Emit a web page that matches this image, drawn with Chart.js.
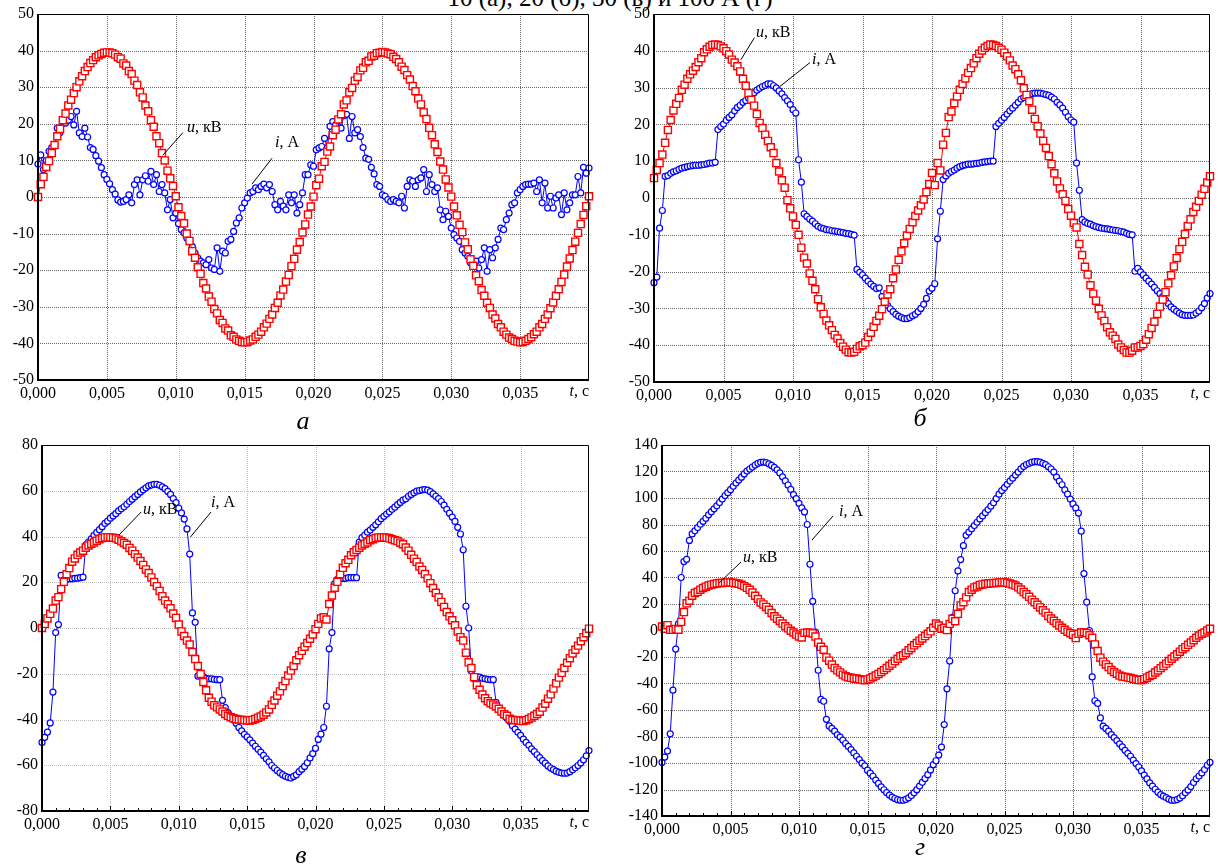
<!DOCTYPE html>
<html>
<head>
<meta charset="utf-8">
<script src="https://cdn.jsdelivr.net/npm/chart.js@4.4.1/dist/chart.umd.min.js"></script>
<style>
  html, body { margin: 0; padding: 0; background: #fff; }
  body { width: 1219px; height: 866px; position: relative; overflow: hidden; font-family: "Liberation Serif", "Times New Roman", serif; color: #000; }
  canvas { position: absolute; }
  .cap { position: absolute; font-style: italic; font-size: 26px; line-height: 1; transform: translate(-50%, -50%); }
  #title { position: absolute; left: 610px; top: -15px; transform: translateX(-50%); font-size: 25px; line-height: 25px; white-space: nowrap; }
</style>
</head>
<body>
<div id="title">10 (а), 20 (б), 30 (в) и 100 А (г)</div>

<canvas id="chartA" width="600" height="412" style="left:0;top:0"></canvas>
<canvas id="chartB" width="614" height="412" style="left:605px;top:0"></canvas>
<canvas id="chartC" width="600" height="412" style="left:0;top:430px"></canvas>
<canvas id="chartD" width="614" height="420" style="left:605px;top:430px"></canvas>

<div class="cap" style="left:303px;top:421px">а</div>
<div class="cap" style="left:920px;top:418px">б</div>
<div class="cap" style="left:301px;top:855px">в</div>
<div class="cap" style="left:920px;top:847px">г</div>

<script>
// осциллограммы: шаг дискретизации 0,2 мс, 0...0,04 с
const STEP = 0.0002;
const time = Array.from({ length: 201 }, (_, k) => +(k * STEP).toFixed(4));

// (а) ток 10 А
const uA = [
  0, 3.5, 5.5, 8.2, 9.8, 12.0, 14.2, 16.6, 18.6, 21.0, 22.8, 25.0, 26.6, 28.4, 30.0, 31.6, 33.0, 34.4, 35.5, 36.6, 37.4, 38.2, 38.7, 39.1, 39.4, 39.5,
  39.5, 39.3, 38.9, 38.2, 37.8, 36.5, 35.9, 34.4, 33.6, 31.8, 30.6, 28.6, 27.2, 25.0, 23.4, 21.0, 19.2, 16.6, 14.7, 12.0, 10.0, 7.2, 5.1, 3.0, 0.2,
  -2.8, -5.2, -7.2, -10.0, -12.0, -14.8, -16.6, -19.2, -21.0, -23.5, -25.0, -27.2, -28.6, -30.6, -31.8, -33.6, -34.4, -35.9, -36.5, -37.8, -38.2, -38.9, -39.3, -39.6, -39.7,
  -39.6, -39.2, -38.9, -38.2, -37.6, -36.8, -35.6, -34.6, -33.3, -32.1, -30.3, -28.9, -26.9, -25.3, -23.1, -21.3, -18.9, -16.9, -14.4, -12.3, -9.7, -7.5, -4.8, -2.6, 0.1,
  3.2, 5.0, 8.4, 9.6, 12.4, 13.8, 16.9, 18.4, 21.2, 22.6, 25.3, 26.4, 28.6, 29.8, 31.8, 32.8, 34.6, 35.3, 36.8, 37.2, 38.4, 38.6, 39.3, 39.4, 39.6,
  39.5, 39.2, 39.0, 38.3, 37.7, 36.8, 35.6, 34.7, 33.3, 32.1, 30.3, 28.9, 26.9, 25.3, 23.1, 21.3, 18.9, 16.9, 14.4, 12.3, 9.7, 7.5, 4.8, 2.6, 0.1,
  -2.6, -5.0, -7.6, -9.6, -12.4, -14.3, -17.0, -18.8, -21.4, -23.0, -25.4, -27.0, -28.9, -30.3, -32.1, -33.2, -34.7, -35.6, -36.8, -37.6, -38.4, -38.8, -39.3, -39.5, -39.7,
  -39.6, -39.3, -38.8, -38.3, -37.5, -36.8, -35.6, -34.7, -33.3, -32.1, -30.4, -28.8, -27.0, -25.2, -23.2, -21.2, -19.0, -16.8, -14.5, -12.2, -9.8, -7.4, -4.9, -2.5, 0.2
];
const iA = [
  9, 11.5, 7.5, 10, 12.5, 13.5, 14, 18.8, 17.6, 20.2, 20.2, 21, 22, 19.7, 23.4, 17.5, 16.5, 18.8, 16.4, 13.5, 13, 11.3, 9.8, 8, 6.1, 4.8,
  3.6, 2, 0.8, -0.8, -1.4, -1.2, -0.7, 0.6, -1.6, 3.4, 4.7, 0.6, 4.7, 5.8, 4.3, 7, 3.4, 6.1, 1.5, 3.4, 1.1, -3.5, -0.7, -5.7, -4.4,
  -7.3, -8.9, -9.8, -11.2, -12.1, -13.5, -15.3, -16.6, -17.5, -18, -18.5, -17.1, -19.4, -19.8, -13.9, -20.3, -14.8, -15.3, -12.1, -11.6, -9.4, -7.1, -5.7, -3, -1.6,
  -0.3, 1.1, 1.5, 2.5, 2, 2.9, 3.5, 2.5, 3.4, 1.5, -2.1, -3.5, -1.2, -2.5, -3.5, 0.6, -1.6, 0.6, -4.4, -2.1, 1.1, 6.1, 6.1, 8.8, 8.4,
  12.9, 13.4, 13.8, 16, 13.5, 19.3, 20.6, 19.7, 21, 18.8, 22.2, 22.6, 16, 22, 17.5, 18.4, 16.5, 13.5, 10.6, 10.3, 8.1, 6.3, 3.4, 2.9, 0.6,
  0.2, -0.7, -1.2, -0.7, -1.2, -1.6, 0.2, -3, 2.9, 4.7, 4.3, 2.9, 4.7, 5.2, 7.5, 1.5, 6.1, 3.4, 1.5, 2.5, -3.5, -6.2, -3.9, -5.3, -8.5,
  -10.3, -11.2, -12.1, -14.4, -15.3, -16.2, -18, -18.5, -17.5, -19.4, -17.1, -13.9, -20.3, -14.4, -16.6, -13.9, -11.6, -8.5, -8.9, -6.2, -4.4, -2.1, -1.6, 1.1, 2,
  2.9, 3.4, 3.5, 3.5, 3.8, 1.5, 4.7, -1.6, 3.8, -3, 0.2, -3, -0.3, 0.6, -4.8, 1.1, -3.5, -1.6, 0.6, 0.6, 5.6, 1.1, 8.1, 6.5, 7.9
];

// (б) ток 20 А
const uB = [
  5.4, 7.6, 9.5, 11.8, 15, 18.5, 21.2, 23.8, 25.6, 27.2, 29.4, 30.8, 32.4, 33.6, 34.6, 35.6, 36.9, 38, 39.6, 40.4, 41.1, 41.6, 41.7, 41.6, 41.2, 40.7,
  39.9, 39, 37.6, 36.8, 35.8, 34.4, 32.4, 30.5, 28.5, 26.7, 25.1, 22.8, 20.4, 19, 17.2, 15.5, 13.8, 12.2, 9.5, 7.2, 4.8, 2.8, -0.6, -2.8, -5,
  -7.3, -10, -13.5, -16.2, -17.8, -20.5, -22.5, -24.8, -27.5, -29.7, -31.5, -33.3, -34.6, -35.9, -37.2, -38.2, -39.4, -40.4, -41.2, -41.9, -42, -41.8, -41, -40.3, -40,
  -39.3, -37.8, -36.6, -35, -33.4, -32, -30.2, -28.2, -26.2, -24.8, -21.8, -19.4, -16.8, -14.5, -12.3, -10.2, -8.4, -6.6, -4.9, -3.4, -2.0, -0.4, 1.6, 3.8, 6.8,
  3.5, 9.5, 7.5, 14.5, 17.7, 22, 23.5, 25.8, 27.6, 29.4, 31, 32.5, 34, 35.3, 36.6, 38, 39.2, 40.1, 40.8, 41.3, 41.7, 41.6, 41.3, 40.8, 40.3,
  39.5, 38.5, 37.4, 36, 35, 33.6, 32, 29.8, 28, 26.3, 24, 21.5, 19.5, 17.5, 15.5, 13.6, 11.4, 9.2, 6.7, 4.5, 2.6, 1, -0.8, -3, -4.8,
  -6.8, -8, -12.5, -15.5, -18.7, -20.8, -23.7, -26, -27.9, -30.1, -31.9, -33.4, -35.1, -36.5, -37.4, -38.3, -39.8, -40.6, -41.3, -42, -42, -41.5, -40.6, -40.6, -40.2,
  -39.7, -38.5, -37, -35.3, -33.6, -31.5, -29.5, -27.6, -25.6, -23.2, -21, -18.6, -16.3, -13.9, -11.9, -9.8, -7.6, -5.8, -3.8, -2.4, -0.8, 0.9, 2.5, 4.2, 5.9
];
const iB = [
  -23, -21.5, -8.2, -3.4, 5.9, 6.1, 6.7, 7.1, 7.4, 7.8, 8.1, 8.3, 8.5, 8.7, 8.8, 8.9, 8.9, 9.0, 9.1, 9.3, 9.5, 9.5, 9.7, 18.6, 19.4, 20.1,
  21.1, 21.9, 22.6, 23.7, 24.6, 25.2, 26.0, 26.5, 27.2, 28.1, 28.6, 29.3, 29.8, 30.3, 30.6, 31.0, 31.0, 30.5, 29.9, 29.1, 28.3, 27.3, 26.4, 25.4, 24.0,
  23.1, 10.4, 4.3, -4.3, -5.0, -5.7, -6.3, -7.0, -7.7, -8.1, -8.3, -8.6, -8.7, -8.9, -9.0, -9.1, -9.3, -9.4, -9.6, -9.7, -9.9, -10.1, -19.4, -20.2, -20.9,
  -21.8, -22.6, -23.4, -24.0, -24.6, -24.4, -26.8, -28.3, -29.2, -30.1, -30.9, -31.6, -32.1, -32.5, -32.8, -32.8, -32.5, -32.0, -31.6, -30.9, -30.0, -28.9, -27.3, -25.3, -24.5,
  -23.3, -11.1, -3.6, 5.0, 6.0, 6.7, 7.2, 7.6, 8.1, 8.5, 8.8, 9.0, 9.2, 9.2, 9.3, 9.4, 9.5, 9.7, 9.8, 9.9, 10.0, 10.0, 19.4, 20.3, 21.1,
  21.9, 22.8, 23.7, 24.4, 25.2, 26.0, 26.9, 27.3, 27.7, 28.1, 28.4, 28.5, 28.5, 28.5, 28.3, 28.1, 27.9, 27.4, 26.9, 26.0, 25.3, 24.4, 23.3, 22.1, 21.2,
  20.6, 9.5, 2.1, -5.9, -6.5, -6.9, -7.1, -7.5, -7.8, -8.0, -8.2, -8.3, -8.4, -8.5, -8.7, -8.8, -8.9, -9.1, -9.3, -9.6, -9.9, -10.0, -19.9, -19.1, -20.1,
  -20.9, -21.8, -22.6, -23.4, -24.3, -25.2, -26.0, -26.8, -27.8, -28.7, -29.6, -30.2, -30.8, -31.3, -31.7, -31.9, -31.9, -31.9, -31.8, -31.3, -30.7, -29.8, -28.7, -27.2, -26.0
];

// (в) ток 30 А
const uC = [
  0, 1.8, 4.2, 6.2, 8.5, 12, 13.5, 17, 20.2, 23.5, 26.2, 29, 30.4, 32, 33, 33.8, 35.1, 36.1, 36.8, 37.4, 38.1, 38.8, 39.3, 39.6, 39.6, 39.6,
  39.5, 39.2, 38.6, 37.9, 37.2, 36.4, 35.0, 33.8, 32.3, 30.8, 29.3, 27.6, 25.6, 24, 22.1, 20.1, 18.3, 16.2, 13.9, 12, 10.4, 8.6, 6.3, 4.4, 1.5,
  -1.5, -3.5, -5.5, -7.2, -10.5, -13.6, -16.6, -20.1, -23.6, -27.2, -30.5, -32.2, -33.8, -34.7, -35.6, -36.5, -37.6, -38.4, -39.0, -39.5, -39.8, -40.1, -40.1, -40.3, -40.4,
  -40.4, -40.2, -39.8, -39.2, -38.7, -37.9, -36.9, -35.6, -33.6, -31.7, -29.6, -27.7, -25.4, -23.2, -20.8, -18.6, -16.6, -14.1, -11.9, -10, -8.2, -6.6, -4.7, -2.8, -0.5,
  1.8, 4.2, 4.7, 3.7, 10.5, 14.2, 17.6, 20.2, 23.5, 26.3, 28.3, 29.8, 31.8, 33.1, 34.1, 35.1, 36.1, 36.8, 37.4, 38.4, 38.8, 39.3, 39.6, 39.6, 39.6,
  39.5, 39.2, 38.8, 38.4, 38.0, 37.3, 36.6, 35.2, 33.8, 32.0, 30.3, 28.9, 26.9, 25.4, 23.6, 21.7, 19.6, 17.5, 15.4, 13.4, 11.4, 9.2, 7.0, 5.1, 3.4,
  1.2, -1.5, -4, -5.5, -10.8, -15, -17.5, -21.5, -25, -27, -29.1, -30.7, -32.0, -32.9, -33.5, -34.3, -35.3, -36.5, -37.7, -38.4, -39.7, -40.1, -40.3, -40.4, -40.5,
  -40.7, -40.3, -39.8, -39.1, -38.4, -37.6, -36.6, -34.8, -33.1, -30.9, -29, -26.5, -24.2, -21.7, -19.6, -17.5, -15.2, -13.2, -11.1, -9.5, -7.7, -5.8, -4, -2.3, -0.3
];
const iC = [
  -50, -47.8, -45.5, -41.5, -28, -2, 1.5, 23, 21, 21.3, 21.5, 21.5, 21.7, 21.8, 22, 22.2, 36.2, 37.6, 39, 40.5, 41.8, 43, 44.3, 45.7, 46.7, 48,
  49, 50, 51.2, 52.1, 53, 54.1, 55.3, 56.3, 57.4, 58.4, 59.5, 60.4, 61.3, 62.1, 62.5, 62.8, 62.8, 62.4, 61.7, 60.9, 59.7, 58.4, 56.6, 54.8, 52.4,
  50.3, 47.6, 43.3, 32.3, 6.6, 2.5, -21, -20.7, -21.2, -22, -22.2, -22.2, -22.5, -22.6, -22.6, -31.6, -34.8, -37, -38.8, -40.2, -41.6, -43.5, -45, -46.5, -47.6,
  -48.9, -50.3, -51.7, -53, -54.3, -55.7, -57.2, -58.5, -60.1, -61.2, -62.3, -63.3, -64.1, -64.8, -65.3, -65.6, -64.9, -64.2, -62.8, -61.7, -60.5, -58.9, -56.8, -54.9, -52.6,
  -48.7, -46.4, -43.5, -34.2, -9.1, -2, 19.4, 21.3, 21.7, 21.7, 21.7, 22, 22, 22, 22, 37.5, 39.5, 40.6, 41.9, 42.8, 44, 45.1, 46.4, 47.8, 48.8,
  49.8, 50.8, 51.9, 52.8, 53.9, 54.9, 55.9, 56.5, 57.6, 58.4, 59.1, 59.8, 60.1, 60.4, 60.5, 60.3, 59.6, 58.6, 57.6, 56.6, 55.3, 53.7, 51.9, 50.2, 48.5,
  46.6, 44, 41.1, 34.2, 9.5, 0, -18.8, -22.2, -21.4, -21.5, -22, -22.2, -22.5, -22.6, -22.6, -32.5, -35, -36.8, -38.1, -39.5, -40.8, -42.7, -44.2, -45.6, -46.9,
  -48.6, -50, -51.3, -52.8, -54, -55.4, -56.7, -58, -59.1, -60.3, -61.2, -61.9, -62.6, -63.1, -63.4, -63.5, -63.4, -62.8, -62, -61.1, -60.1, -59, -57.6, -55.9, -53.6
];

// (г) ток 100 А
const uD = [
  3, 1.3, 4, 0.5, 0.5, 1.2, 0.6, 6.5, 13.9, 20.5, 22.5, 26.3, 28.3, 29.2, 30.8, 32.1, 33.1, 33.9, 34.6, 35.1, 35.5, 35.8, 35.9, 36.1, 36.3, 36.3,
  36.0, 35.7, 35.3, 34.5, 33.5, 32.2, 30.7, 28.6, 26.2, 23.8, 21.2, 19.7, 17.8, 15.6, 13.2, 10.7, 8.9, 7.2, 5.2, 3.2, 1.6, -0.2, -1.5, -3.1, -4.5,
  -5.2, -1.8, -1.5, -1.6, -2.2, -4.6, -9, -12.3, -14.5, -20.3, -22.8, -25.7, -28.3, -30.1, -31.6, -33.3, -34.6, -35.2, -35.7, -36.2, -36.2, -36.8, -37.2, -37.5, -37.1,
  -36.3, -35.1, -34, -32.8, -31.4, -29.9, -28.3, -26.6, -25, -23.1, -21.3, -19.5, -18.7, -16.9, -14.9, -13.2, -11.2, -9.5, -7.7, -6.0, -4.2, -2.5, -0.6, 2.0, 5.3,
  3.8, 1.3, 2, 0.3, 5, 8.8, 7, 12.6, 18.9, 21.4, 25, 29, 30.8, 32.5, 33.2, 34.4, 34.8, 35.2, 35.4, 35.6, 35.8, 35.9, 36.2, 36.3, 36.3,
  36, 35.4, 34.7, 33.9, 32.6, 30.9, 29, 27.3, 25.4, 23.3, 21.3, 19.4, 17.4, 15.2, 13.5, 11, 9, 7.3, 5.5, 3.8, 2, 0.5, -0.9, -2, -3.2,
  -5.7, -2.5, -1.4, -1.3, -1.9, -3.6, -5.5, -10.5, -15.5, -20.5, -23.5, -25.6, -27.6, -29.8, -31.4, -32.6, -34, -34.7, -35, -35.4, -35.9, -36.4, -37, -37.4, -37.3,
  -36.7, -35.6, -34.4, -33.4, -31.7, -30.2, -28.4, -26.8, -25, -23.1, -21.3, -19.6, -17.9, -16, -14.1, -12.6, -10.8, -9.1, -7.3, -5.5, -3.8, -2.5, -1.5, 0, 1.3
];
const iD = [
  -99.5, -95.5, -91, -78, -45, -14, 5, 40, 52, 53.7, 68, 72.9, 75.2, 77.7, 80.2, 82.4, 84.7, 87.3, 89.6, 91.8, 94.1, 96.6, 99.2, 101.9, 104, 106.3,
  108.8, 111.3, 113.5, 115.7, 118.2, 120.3, 121.9, 123.4, 124.9, 126.2, 126.9, 127.1, 126.7, 125.8, 124.6, 123.1, 121.3, 118.9, 116, 112.9, 109.8, 106.5, 102.5, 99.5, 96,
  92.5, 89.5, 80, 50, 22, -1.3, -30, -52, -53.4, -67, -72, -73.9, -76, -78.7, -80.4, -82.7, -85.3, -87.5, -89.9, -92.4, -94.9, -97.4, -100.1, -102.1, -105.4,
  -107.7, -110, -112.9, -115.4, -118, -120.2, -122.4, -124.2, -125.7, -126.8, -127.7, -128.1, -128.1, -127.5, -126.3, -124.6, -122.5, -120.1, -117.4, -114.6, -111.7, -108.8, -105.2, -101.3, -98.3,
  -94, -88, -71, -44, -23, 10, 30, 45, 53.5, 64, 71.8, 74.3, 76.7, 79.2, 81.7, 84.2, 86.5, 88.9, 91.3, 93.8, 96.4, 99.6, 102.9, 105.6, 107.9,
  110.3, 112.8, 115, 117.3, 119.6, 122, 123.8, 125.3, 126.2, 127, 127.4, 127.4, 127, 126.2, 125.2, 123.6, 121.9, 119.6, 115.8, 112.8, 110, 106.2, 103, 99.2, 95.5,
  92.5, 88.6, 75, 43, 21.4, 0, -35, -53, -55, -66, -72.2, -73.9, -76, -78.6, -80.8, -83.1, -85.5, -87.9, -90.4, -92.7, -94.9, -97.8, -100.4, -103, -106,
  -109.1, -112, -115, -117.5, -119.8, -122, -123.8, -125, -126.1, -127.3, -128.1, -128.1, -127.6, -126.5, -124.7, -122.5, -120.3, -117.8, -114.7, -111.9, -109.8, -107.5, -104.9, -101.7, -99.5
];

const FONT = '"Liberation Serif", "Times New Roman", serif';
const RED = '#ff0000';
const BLUE = '#0000ff';
const DOTTED = { color: 'rgba(0,0,0,0.6)', dash: [1, 1] };
const LIGHT = { color: '#bdbdbd', dash: [1, 1] };

// описание панелей: оси, отступы, стиль сетки, подписи u и i
const panels = [
  {
    id: 'chartA', u: uA, i: iA, ymin: -50, ymax: 50, ystep: 10,
    pad: { top: 14, right: 11 }, yw: 38, xh: 32, grid: DOTTED, minor: false,
    notes: [
      { sym: 'u', unit: ', кВ', tx: 0.01081, ty: 18.8, l: [0.01052, 17.6, 0.00906, 11.4] },
      { sym: 'i', unit: ', А', tx: 0.01721, ty: 14.7, l: [0.01699, 10.6, 0.01553, 3.5] }
    ]
  },
  {
    id: 'chartB', u: uB, i: iB, ymin: -50, ymax: 50, ystep: 10,
    pad: { top: 14, right: 9 }, yw: 49, xh: 30, grid: DOTTED, minor: false,
    notes: [
      { sym: 'u', unit: ', кВ', tx: 0.00734, ty: 44.9, l: [0.00723, 43.6, 0.00626, 37.6] },
      { sym: 'i', unit: ', А', tx: 0.01137, ty: 37.6, l: [0.01122, 36.8, 0.00906, 30.3] }
    ]
  },
  {
    id: 'chartC', u: uC, i: iC, ymin: -80, ymax: 80, ystep: 20,
    pad: { top: 15, right: 11 }, yw: 42, xh: 31, grid: LIGHT, minor: true,
    notes: [
      { sym: 'u', unit: ', кВ', tx: 0.00739, ty: 51.6, l: [0.00725, 50.7, 0.00564, 40.7] },
      { sym: 'i', unit: ', А', tx: 0.01236, ty: 54.6, l: [0.01236, 50.7, 0.01086, 39.8] }
    ]
  },
  {
    id: 'chartD', u: uD, i: iD, ymin: -140, ymax: 140, ystep: 20,
    pad: { top: 15, right: 9 }, yw: 57, xh: 34, grid: DOTTED, minor: true,
    notes: [
      { sym: 'i', unit: ', А', tx: 0.01292, ty: 89.4, l: [0.01248, 86.4, 0.01095, 68.3] },
      { sym: 'u', unit: ', кВ', tx: 0.00591, ty: 54.7, l: [0.00577, 51.7, 0.00416, 35.8] }
    ]
  }
];

const toPoints = vals => vals.map((v, k) => ({ x: time[k], y: v }));

// сетка, рамка, засечки, подписи кривых и оси t
function decorPlugin(p) {
  return {
    id: 'decor' + p.id,
    beforeDatasetsDraw(chart) {
      const { ctx, chartArea: a, scales: { x, y } } = chart;
      ctx.save();
      ctx.strokeStyle = p.grid.color;
      ctx.lineWidth = 1;
      ctx.setLineDash(p.grid.dash);
      x.ticks.forEach(tk => {
        const px = Math.round(x.getPixelForValue(tk.value)) + 0.5;
        if (px <= a.left + 2 || px >= a.right - 2) return;
        ctx.beginPath(); ctx.moveTo(px, a.top); ctx.lineTo(px, a.bottom); ctx.stroke();
      });
      y.ticks.forEach(tk => {
        const py = Math.round(y.getPixelForValue(tk.value)) + 0.5;
        if (py <= a.top + 2 || py >= a.bottom - 2) return;
        ctx.beginPath(); ctx.moveTo(a.left, py); ctx.lineTo(a.right, py); ctx.stroke();
      });
      ctx.restore();
    },
    afterDatasetsDraw(chart) {
      const { ctx, chartArea: a, scales: { x, y } } = chart;
      ctx.save();
      ctx.setLineDash([]);
      ctx.strokeStyle = '#000';

      // рамка
      const L = Math.round(a.left), R = Math.round(a.right), T = Math.round(a.top), B = Math.round(a.bottom);
      ctx.lineWidth = 1;
      ctx.beginPath();
      ctx.moveTo(L, T + 0.5); ctx.lineTo(R - 0.5, T + 0.5); ctx.lineTo(R - 0.5, B);
      ctx.stroke();
      ctx.lineWidth = 2;
      ctx.beginPath();
      ctx.moveTo(L, T); ctx.lineTo(L, B); ctx.lineTo(R, B);
      ctx.stroke();

      // мелкие засечки по оси времени
      if (p.minor) {
        ctx.lineWidth = 1;
        for (let m = 1; m < 40; m++) {
          const px = Math.round(x.getPixelForValue(m * 0.001)) + 0.5;
          const len = m % 5 === 0 ? 5 : 3;
          ctx.beginPath(); ctx.moveTo(px, B); ctx.lineTo(px, B - len); ctx.stroke();
        }
      }

      // подписи кривых с выносками
      ctx.lineWidth = 1;
      ctx.fillStyle = '#000';
      ctx.textBaseline = 'middle';
      ctx.textAlign = 'left';
      p.notes.forEach(n => {
        ctx.beginPath();
        ctx.moveTo(x.getPixelForValue(n.l[0]), y.getPixelForValue(n.l[1]));
        ctx.lineTo(x.getPixelForValue(n.l[2]), y.getPixelForValue(n.l[3]));
        ctx.stroke();
        const tx = x.getPixelForValue(n.tx), ty = y.getPixelForValue(n.ty);
        ctx.font = 'italic 16px ' + FONT;
        ctx.fillText(n.sym, tx, ty);
        const w = ctx.measureText(n.sym).width;
        ctx.font = '16px ' + FONT;
        ctx.fillText(n.unit, tx + w, ty);
      });

      // t, с на месте последней метки
      ctx.textBaseline = 'top';
      ctx.font = '16px ' + FONT;
      const unit = ', с';
      const uw = ctx.measureText(unit).width;
      const rx = x.getPixelForValue(0.04);
      const ly = B + 4;
      ctx.fillText(unit, rx - uw, ly);
      ctx.font = 'italic 16px ' + FONT;
      const tw = ctx.measureText('t').width;
      ctx.fillText('t', rx - uw - tw, ly);
      ctx.restore();
    }
  };
}

function makeChart(p) {
  return new Chart(document.getElementById(p.id), {
    type: 'line',
    data: {
      datasets: [
        {
          label: 'u, кВ',
          data: toPoints(p.u),
          borderColor: RED,
          borderWidth: 1,
          pointStyle: 'rect',
          pointRadius: 5,
          pointBorderWidth: 1.4,
          pointBorderColor: RED,
          pointBackgroundColor: '#fff',
          clip: 5
        },
        {
          label: 'i, А',
          data: toPoints(p.i),
          borderColor: BLUE,
          borderWidth: 1,
          pointStyle: 'circle',
          pointRadius: 3,
          pointBorderWidth: 1.2,
          pointBorderColor: BLUE,
          pointBackgroundColor: '#fff',
          clip: 5
        }
      ]
    },
    options: {
      responsive: false,
      animation: false,
      events: [],
      layout: { padding: { top: p.pad.top, right: p.pad.right, left: 0, bottom: 0 } },
      plugins: { legend: { display: false }, tooltip: { enabled: false } },
      scales: {
        x: {
          type: 'linear',
          min: 0,
          max: 0.04,
          grid: { display: false, drawTicks: false },
          border: { display: false },
          ticks: {
            stepSize: 0.005,
            autoSkip: false,
            maxRotation: 0,
            padding: 4,
            color: '#000',
            font: { family: FONT, size: 16 },
            callback: v => (Math.abs(v - 0.04) < 1e-9 ? '' : v.toFixed(3).replace('.', ','))
          },
          afterFit: s => { s.height = p.xh; }
        },
        y: {
          type: 'linear',
          min: p.ymin,
          max: p.ymax,
          grid: { display: false, drawTicks: false },
          border: { display: false },
          ticks: {
            stepSize: p.ystep,
            autoSkip: false,
            padding: 4,
            color: '#000',
            font: { family: FONT, size: 16 },
            callback: v => String(v)
          },
          afterFit: s => { s.width = p.yw; }
        }
      }
    },
    plugins: [decorPlugin(p)]
  });
}

panels.forEach(makeChart);
</script>
</body>
</html>
